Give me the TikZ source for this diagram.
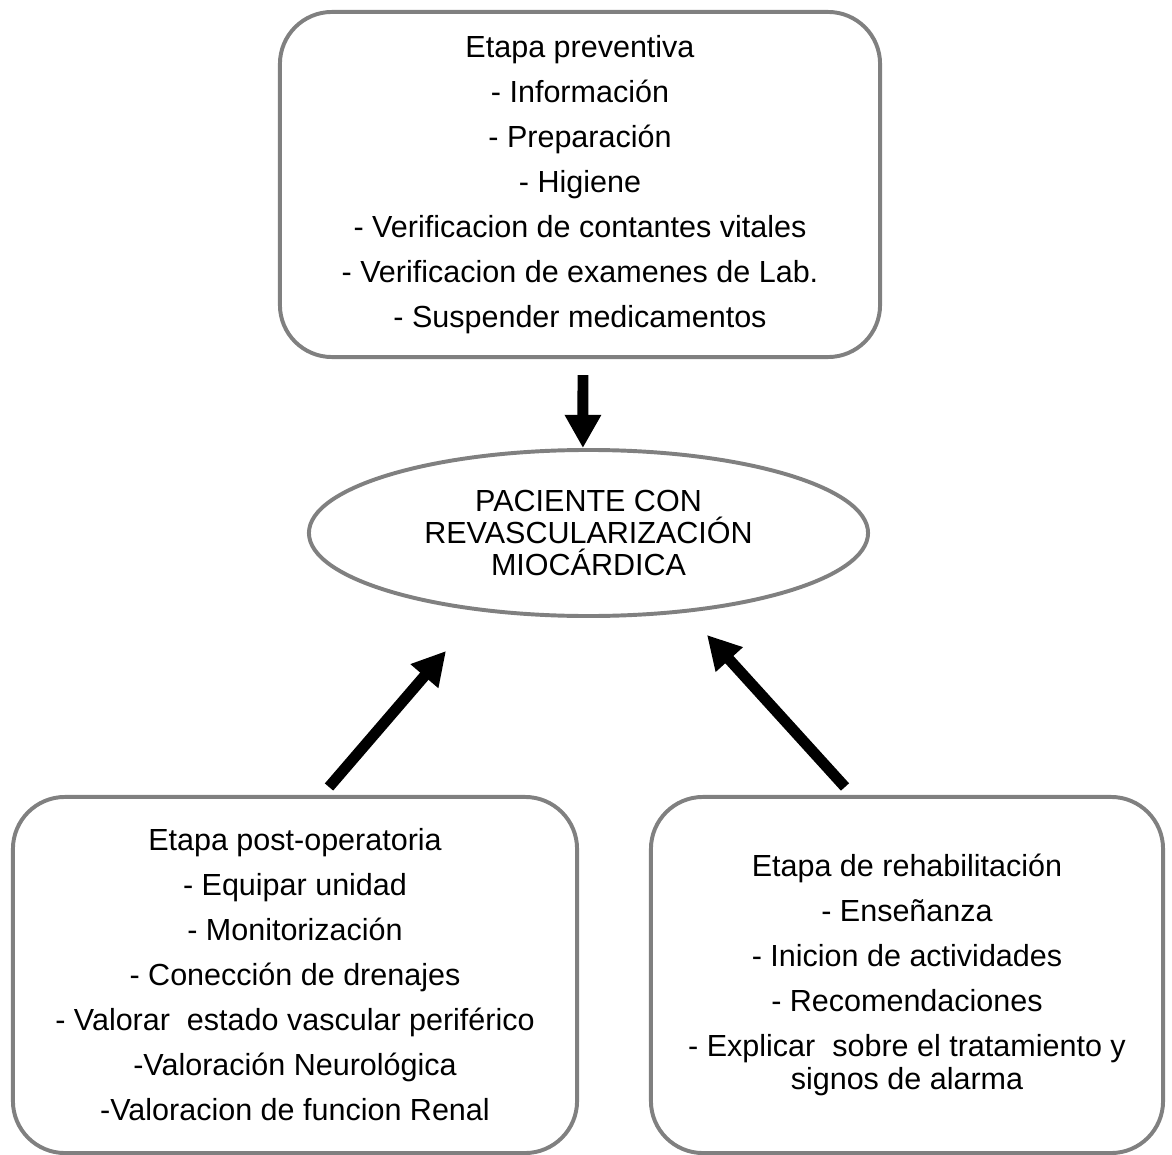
\documentclass[tikz,border=0pt]{standalone}
\usepackage{fontspec}
\setmainfont{Liberation Sans}
\usetikzlibrary{arrows.meta,shapes.geometric}
\begin{document}
\begin{tikzpicture}[x=0.025cm, y=-0.025cm, font=\fontsize{21.7pt}{32pt}\selectfont,
	etapa/.style={draw=gray, line width=2.8pt, rounded corners=1.3cm, align=center, inner sep=0pt},
	flecha/.style={-{Triangle[length=0.83cm, width=0.86cm]}, line width=7.8pt}]
	\useasboundingbox (0,0) rectangle (1172,1155);
	\node[etapa, minimum width=15cm, minimum height=8.625cm] (prev) at (580,184.5) {Etapa preventiva\\- Información\\- Preparación\\- Higiene\\- Verificacion de contantes vitales\\- Verificacion de examenes de Lab.\\- Suspender medicamentos};
	\node[draw=gray, line width=2.8pt, ellipse, inner sep=0pt, minimum width=13.975cm, minimum height=4.15cm, align=center, font=\fontsize{21.7pt}{22.8pt}\selectfont] (pac) at (588.5,533) {PACIENTE CON\\REVASCULARIZACIÓN\\MIOCÁRDICA};
	\node[etapa, minimum width=14.1cm, minimum height=8.9cm] (post) at (295,975) {Etapa post-operatoria\\- Equipar unidad\\- Monitorización\\- Conección de drenajes\\- Valorar~ estado vascular periférico\\-Valoración Neurológica\\-Valoracion de funcion Renal};
	\node[etapa, minimum width=12.8cm, minimum height=8.9cm, font=\fontsize{21.7pt}{23.5pt}\selectfont] (rehab) at (907,975) {Etapa de rehabilitación\\[8.5pt]- Enseñanza\\[8.5pt]- Inicion de actividades\\[8.5pt]- Recomendaciones\\[8.5pt]- Explicar~ sobre el tratamiento y\\signos de alarma};
	\coordinate (tipL) at (446,651);
	\coordinate (tipR) at (707,635);
	\draw[flecha] ([xshift=0.075cm, yshift=-0.4cm]prev.south) -- ([xshift=-0.14cm]pac.north);
	\draw[flecha] ([xshift=0.85cm, yshift=0.2cm]post.north) -- (tipL);
	\draw[flecha] ([xshift=-1.55cm, yshift=0.2cm]rehab.north) -- (tipR);
\end{tikzpicture}
\end{document}
